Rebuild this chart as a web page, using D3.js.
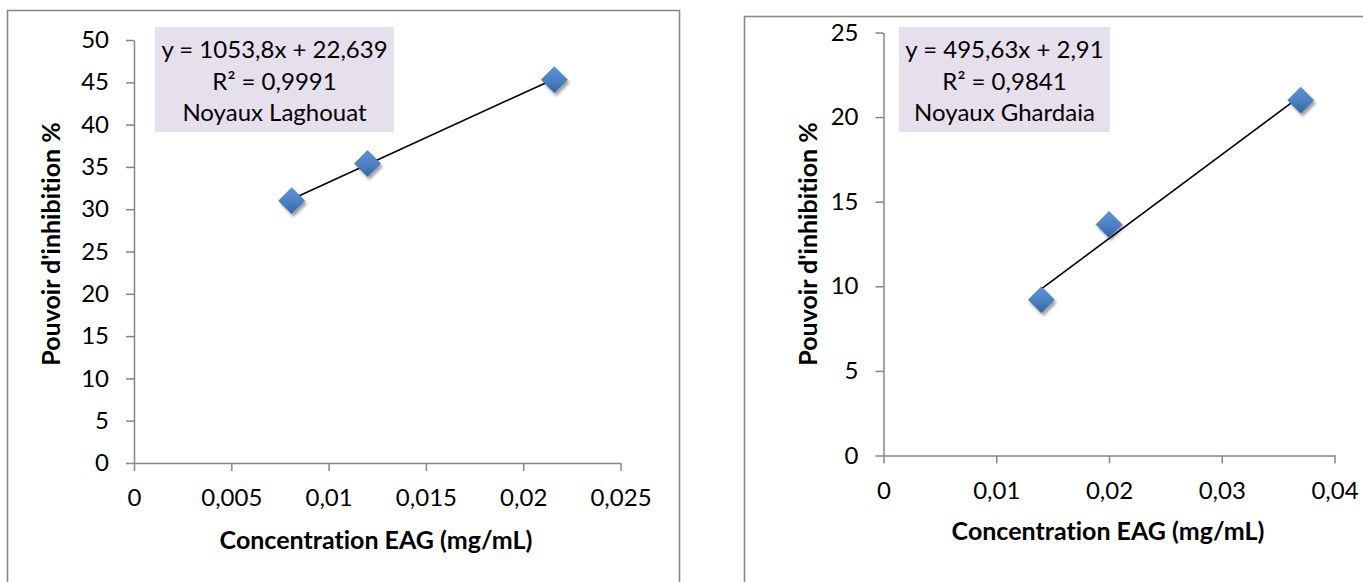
<!DOCTYPE html>
<html>
<head>
<meta charset="utf-8">
<script src="https://cdn.jsdelivr.net/npm/d3@7"></script>
<style>
  html, body { margin: 0; padding: 0; background: #fff; }
  svg { display: block; }
  text { font-family: Lato, "Open Sans", sans-serif; fill: #000; font-variant-ligatures: none; }
</style>
</head>
<body>
<svg id="chart" width="1363" height="582"></svg>
<script>
// Concentration EAG (mg/mL) and inhibition (%) for each sample
const xLaghouat = [0.0081, 0.012, 0.0216];
const yLaghouat = [31.0, 35.4, 45.3];
const xGhardaia = [0.014, 0.02, 0.037];
const yGhardaia = [9.2, 13.65, 21.0];

// Linear trend lines as reported (slope, intercept, R²)
const sampleNames = ["Noyaux Laghouat", "Noyaux Ghardaia"];
const slopes = [1053.8, 495.63];
const intercepts = [22.639, 2.91];
const rSquared = [0.9991, 0.9841];

// Axis ticks
const xTicksLaghouat = [0, 0.005, 0.01, 0.015, 0.02, 0.025];
const yTicksLaghouat = [0, 5, 10, 15, 20, 25, 30, 35, 40, 45, 50];
const xTicksGhardaia = [0, 0.01, 0.02, 0.03, 0.04];
const yTicksGhardaia = [0, 5, 10, 15, 20, 25];

const xTitle = "Concentration EAG (mg/mL)";
const yTitle = "Pouvoir d'inhibition %";

const fmt = v => String(v).replace(".", ",");

const svg = d3.select("#chart");
const defs = svg.append("defs");

const grad = defs.append("linearGradient")
  .attr("id", "markerFill").attr("x1", 0).attr("y1", 0).attr("x2", 0).attr("y2", 1);
grad.append("stop").attr("offset", "0%").attr("stop-color", "#5f95d6");
grad.append("stop").attr("offset", "55%").attr("stop-color", "#4a7fc2");
grad.append("stop").attr("offset", "100%").attr("stop-color", "#3565a6");

const shadow = defs.append("filter").attr("id", "markerShadow")
  .attr("x", "-50%").attr("y", "-50%").attr("width", "200%").attr("height", "200%");
shadow.append("feDropShadow")
  .attr("dx", 2).attr("dy", 3).attr("stdDeviation", 1.6)
  .attr("flood-color", "#000").attr("flood-opacity", 0.38);

const panels = [
  {
    xs: xLaghouat, ys: yLaghouat, xTicks: xTicksLaghouat, yTicks: yTicksLaghouat,
    frame: { x: 7.5, y: 10.5, w: 672, h: 640 },
    plot: { left: 134, right: 620.5, top: 40, bottom: 463 },
    box: { x: 155, y: 27, w: 239, h: 105 },
    yTitleX: 51, yTitleY: 244, xTitleX: 376, xTitleY: 540,
    idx: 0
  },
  {
    xs: xGhardaia, ys: yGhardaia, xTicks: xTicksGhardaia, yTicks: yTicksGhardaia,
    frame: { x: 744.5, y: 16.5, w: 700, h: 640 },
    plot: { left: 883.5, right: 1334.5, top: 32.5, bottom: 455.5 },
    box: { x: 899, y: 27, w: 211, h: 105 },
    yTitleX: 808, yTitleY: 244, xTitleX: 1108, xTitleY: 531,
    idx: 1
  }
];

const diamond = "M0,-13L13,0L0,13L-13,0Z";

panels.forEach(p => {
  const g = svg.append("g");

  // chart area outline
  g.append("rect")
    .attr("x", p.frame.x).attr("y", p.frame.y)
    .attr("width", p.frame.w).attr("height", p.frame.h)
    .attr("fill", "#fff").attr("stroke", "#8a8a8a").attr("stroke-width", 1.6);

  const x = d3.scaleLinear()
    .domain([p.xTicks[0], p.xTicks[p.xTicks.length - 1]])
    .range([p.plot.left, p.plot.right]);
  const y = d3.scaleLinear()
    .domain([p.yTicks[0], p.yTicks[p.yTicks.length - 1]])
    .range([p.plot.bottom, p.plot.top]);

  const xAxis = g.append("g")
    .attr("transform", `translate(0,${p.plot.bottom})`)
    .call(d3.axisBottom(x).tickValues(p.xTicks).tickFormat(fmt)
      .tickSizeInner(8).tickSizeOuter(0).tickPadding(18));
  const yAxis = g.append("g")
    .attr("transform", `translate(${p.plot.left},0)`)
    .call(d3.axisLeft(y).tickValues(p.yTicks).tickFormat(fmt)
      .tickSizeInner(8).tickSizeOuter(0).tickPadding(17));

  [xAxis, yAxis].forEach(a => {
    a.select(".domain").attr("stroke", "#868686").attr("stroke-width", 1.5);
    a.selectAll(".tick line").attr("stroke", "#868686").attr("stroke-width", 1.5);
    a.selectAll(".tick text")
      .attr("font-family", "Lato, 'Open Sans', sans-serif")
      .attr("font-size", 24).attr("fill", "#000");
  });

  // trend line over the measured range
  const xMin = d3.min(p.xs), xMax = d3.max(p.xs);
  const fit = v => slopes[p.idx] * v + intercepts[p.idx];
  g.append("line")
    .attr("x1", x(xMin)).attr("y1", y(fit(xMin)))
    .attr("x2", x(xMax)).attr("y2", y(fit(xMax)))
    .attr("stroke", "#000").attr("stroke-width", 1.6);

  // data markers
  g.selectAll("path.pt")
    .data(p.xs.map((v, i) => [v, p.ys[i]]))
    .join("path")
    .attr("class", "pt")
    .attr("d", diamond)
    .attr("transform", d => `translate(${x(d[0])},${y(d[1])})`)
    .attr("fill", "url(#markerFill)")
    .attr("stroke", "#3a6cad").attr("stroke-width", 0.6)
    .attr("filter", "url(#markerShadow)");

  // trend line label
  g.append("rect")
    .attr("x", p.box.x).attr("y", p.box.y)
    .attr("width", p.box.w).attr("height", p.box.h)
    .attr("fill", "#e6e0ec");
  const lines = [
    `y = ${fmt(slopes[p.idx])}x + ${fmt(intercepts[p.idx])}`,
    `R² = ${fmt(rSquared[p.idx])}`,
    sampleNames[p.idx]
  ];
  g.selectAll("text.lbl")
    .data(lines)
    .join("text")
    .attr("class", "lbl")
    .attr("x", p.box.x + p.box.w / 2)
    .attr("y", (d, i) => p.box.y + 23 + i * 31.5)
    .attr("dy", "0.35em")
    .attr("text-anchor", "middle")
    .attr("font-size", 24)
    .text(d => d);

  // axis titles
  g.append("text")
    .attr("x", p.xTitleX).attr("y", p.xTitleY)
    .attr("dy", "0.35em")
    .attr("text-anchor", "middle")
    .attr("font-weight", "bold").attr("font-size", 25)
    .text(xTitle);
  g.append("text")
    .attr("transform", `translate(${p.yTitleX},${p.yTitleY}) rotate(-90)`)
    .attr("dy", "0.35em")
    .attr("text-anchor", "middle")
    .attr("font-weight", "bold").attr("font-size", 25)
    .text(yTitle);
});
</script>
</body>
</html>
